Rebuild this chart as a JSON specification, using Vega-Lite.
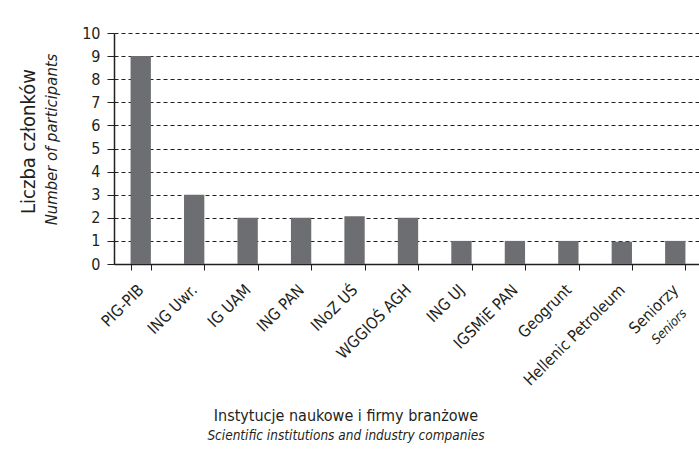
{
  "$schema": "https://vega.github.io/schema/vega-lite/v6.json",
  "autosize": {"type": "none"},
  "padding": {"left": 114, "top": 33, "right": 0, "bottom": 190},
  "width": 588,
  "height": 231,
  "background": "white",
  "config": {
    "view": {"stroke": null},
    "font": "'DejaVu Sans Condensed', 'Liberation Sans', sans-serif",
    "axis": {"labelColor": "#231f20", "titleColor": "#231f20", "titleFontWeight": "normal"}
  },
  "title": {
    "text": "Instytucje naukowe i firmy branżowe",
    "subtitle": "Scientific institutions and industry companies",
    "orient": "bottom",
    "anchor": "middle",
    "frame": "bounds",
    "dx": -14,
    "offset": 20,
    "fontSize": 16,
    "fontWeight": "normal",
    "color": "#231f20",
    "subtitleFontSize": 13.5,
    "subtitleFontStyle": "italic",
    "subtitleColor": "#231f20",
    "subtitlePadding": 5
  },
  "data": {
    "values": [
      {"inst": "PIG-PIB", "n": 9},
      {"inst": "ING Uwr.", "n": 3},
      {"inst": "IG UAM", "n": 2},
      {"inst": "ING PAN", "n": 2},
      {"inst": "INoZ UŚ", "n": 2.07},
      {"inst": "WGGIOŚ AGH", "n": 2},
      {"inst": "ING UJ", "n": 1},
      {"inst": "IGSMiE PAN", "n": 1},
      {"inst": "Geogrunt", "n": 1},
      {"inst": "Hellenic Petroleum", "n": 0.96},
      {"inst": "Seniorzy", "n": 1, "sub": "Seniors"}
    ]
  },
  "layer": [
    {
      "mark": {"type": "bar", "color": "#6d6e71"},
      "encoding": {
        "x": {
          "field": "inst",
          "type": "nominal",
          "sort": null,
          "scale": {"paddingInner": 0.62, "paddingOuter": 0.31},
          "axis": {
            "title": null,
            "labelAngle": -45,
            "labelAlign": "right",
            "labelBaseline": "middle",
            "labelFontSize": 16,
            "labelPadding": 17,
            "tickBand": "extent",
            "tickSize": 6,
            "tickColor": "#231f20",
            "domainColor": "#231f20",
            "domainWidth": 1.5
          }
        },
        "y": {
          "field": "n",
          "type": "quantitative",
          "scale": {"domain": [0, 10]},
          "axis": {
            "title": "Number of participants",
            "titleFontStyle": "italic",
            "titleFontSize": 16.5,
            "titleAngle": 270,
            "titleBaseline": "middle",
            "titleAlign": "center",
            "titleX": -63,
            "titleY": 106,
            "values": [0, 1, 2, 3, 4, 5, 6, 7, 8, 9, 10],
            "labelFontSize": 16,
            "labelPadding": 7,
            "tickSize": 7,
            "tickColor": "#231f20",
            "domainColor": "#231f20",
            "domainWidth": 1.5,
            "grid": true,
            "gridColor": "#231f20",
            "gridDash": [4, 3],
            "gridWidth": 1
          }
        }
      }
    },
    {
      "transform": [{"filter": "datum.sub"}],
      "mark": {
        "type": "text",
        "angle": -45,
        "align": "right",
        "baseline": "middle",
        "fontStyle": "italic",
        "fontSize": 13,
        "color": "#231f20",
        "dx": -27,
        "dy": 40
      },
      "encoding": {
        "x": {"field": "inst", "type": "nominal", "sort": null},
        "y": {
          "datum": 0,
          "type": "quantitative",
          "axis": {
            "orient": "left",
            "title": "Liczba członków",
            "titleFontSize": 20,
            "titleAngle": 270,
            "titleBaseline": "middle",
            "titleAlign": "center",
            "titleX": -86,
            "titleY": 108,
            "labels": false,
            "ticks": false,
            "domain": false,
            "grid": false
          }
        },
        "text": {"field": "sub"}
      }
    }
  ],
  "resolve": {"axis": {"y": "independent"}}
}
